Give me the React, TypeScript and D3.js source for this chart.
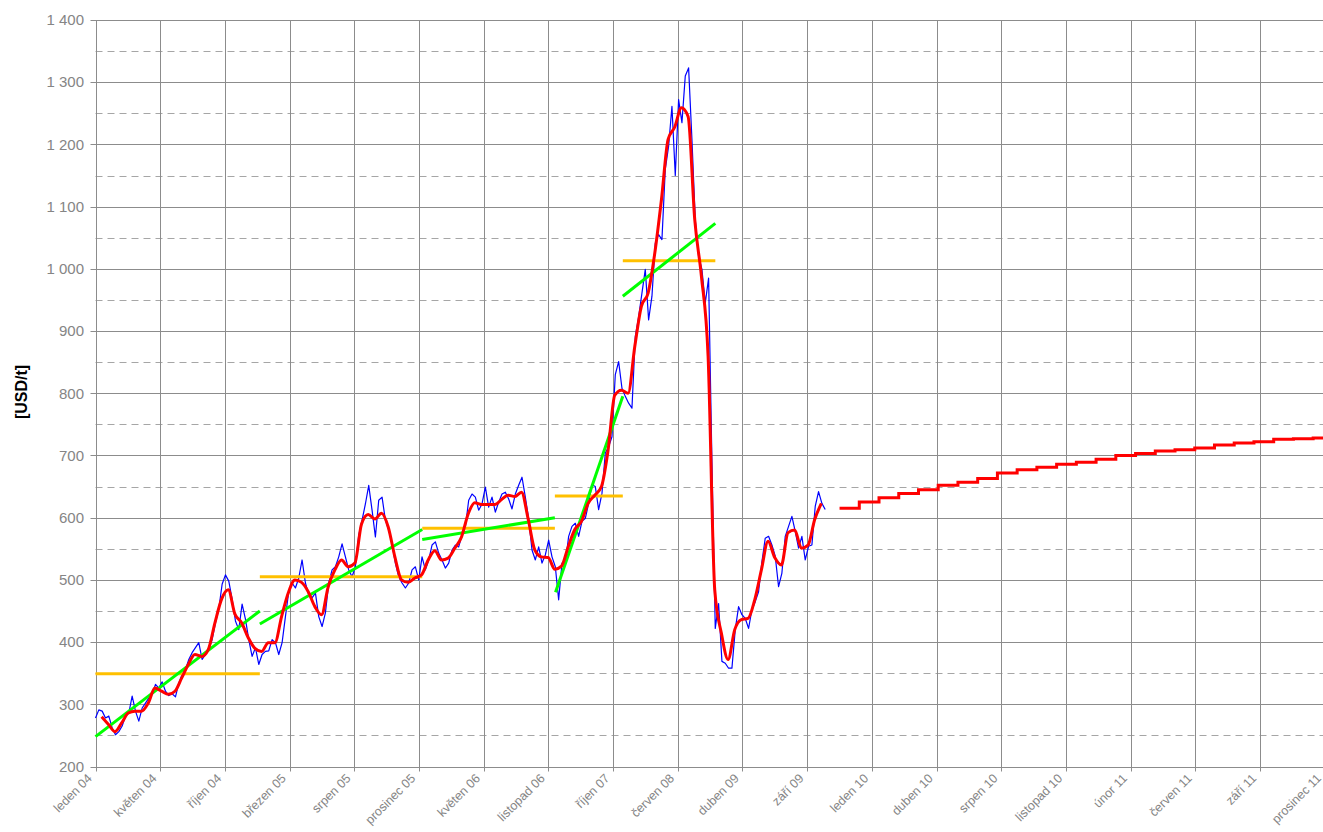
import { useRef, useEffect } from 'react';
import * as d3 from 'd3';

// category labels along the bottom axis (one per grid column)
const monthLabels = [
  'leden 04', 'květen 04', 'říjen 04', 'březen 05', 'srpen 05', 'prosinec 05',
  'květen 06', 'listopad 06', 'říjen 07', 'červen 08', 'duben 09', 'září 09',
  'leden 10', 'duben 10', 'srpen 10', 'listopad 10', 'únor 11', 'červen 11',
  'září 11', 'prosinec 11',
];

const yTicks = [200, 300, 400, 500, 600, 700, 800, 900, 1000, 1100, 1200, 1300, 1400];
const yHalfTicks = [250, 350, 450, 550, 650, 750, 850, 950, 1050, 1150, 1250, 1350];

// price quotes, read along the category axis
const PRICE_START = 0;
const PRICE_STEP = 0.0515;
const price = [
  278, 291, 289, 278, 281, 262, 251, 256, 265, 281, 286, 313, 289, 273, 294, 302, 310, 316,
  332, 326, 336, 321, 314, 317, 312, 334, 348, 356, 372, 383, 391, 399, 372, 380, 388, 404,
  431, 453, 493, 508, 498, 469, 434, 420, 461, 437, 404, 377, 391, 364, 380, 385,
  386, 404, 399, 380, 399, 441, 481, 495, 487, 503, 532, 495, 476, 471, 479, 441, 425, 447,
  495, 516, 521, 537, 558, 537, 516, 505, 521, 572, 596, 622, 652, 612, 569, 628, 633, 596,
  580, 558, 527, 505, 495, 487, 495, 516, 521, 500, 537, 516,
  532, 556, 561, 543, 532, 519, 527, 548, 556, 553, 572, 585, 628, 638, 633, 612, 622, 649,
  617, 633, 609, 625, 638, 641, 630, 614, 638, 652, 665, 633, 598, 548, 532, 553, 527, 540,
  564, 537, 521, 468, 527,
  527, 570, 586, 591, 570, 594, 599, 623, 653, 650, 613, 639, 704, 714, 730, 830, 851, 808,
  795, 784, 776,
  891, 923, 961, 999, 918, 956, 1041, 1055, 1047, 1160, 1197, 1261, 1150, 1272, 1235, 1310,
  1323, 1208, 1079, 1020, 999, 945, 985,
  690, 422, 462, 369, 366, 358, 358, 420, 457, 444, 438, 422, 452, 465, 481, 529, 567, 570,
  556, 538, 489, 511, 570, 586, 602, 578, 551, 570, 532, 554, 556, 618, 642, 623, 613,
];

// moving average of the price
const SMOOTH_START = 0.095;
const SMOOTH_STEP = 0.103;
const smoothed = [
  280, 268, 256, 270, 286, 289, 289, 302, 326, 321, 316, 321, 342, 364, 380, 377, 388, 431,
  469, 484, 445, 431, 407, 390, 385,
  399, 399, 441, 479, 500, 496, 481, 457, 444, 489, 516, 532, 521, 527, 590, 605, 598, 607,
  585, 537, 500, 496, 503, 508,
  532, 547, 532, 535, 551, 569, 606, 624, 621, 621, 621, 629, 636, 634, 641, 598, 548, 537,
  536, 517, 522,
  553, 581, 594, 623, 636, 650, 709, 797, 805, 800, 875,
  940, 961, 1025, 1111, 1208, 1228, 1259, 1245, 1079, 988, 860,
  484, 414, 372, 420, 436, 438, 468, 516, 562, 536, 524, 576, 580, 551, 556, 597, 623,
];

// monthly forecast
const FORECAST_START = 11.5;
const FORECAST_STEP = 0.305;
const forecast = [
  615, 625, 632, 639, 645, 652, 657, 663, 672, 677, 681, 686, 689, 694, 700, 703, 707, 709,
  712, 717, 720, 722, 726, 727, 728,
];

// linear trends per period
const trendFrom = [0, 2.54, 5.05, 7.11, 8.15];
const trendTo = [2.54, 5.05, 7.1, 8.15, 9.58];
const trendStart = [248, 429, 565, 480, 956];
const trendEnd = [450, 581, 600, 795, 1073];

// period averages
const avgFrom = [0, 2.54, 5.05, 7.1, 8.15];
const avgTo = [2.54, 5.05, 7.1, 8.15, 9.58];
const avgValue = [349, 505, 583, 635, 1013];

const W = 1323;
const H = 832;
const FONT = "Arial, 'Liberation Sans', sans-serif";

export default function App() {
  const svgRef = useRef<SVGSVGElement | null>(null);

  useEffect(() => {
    if (!svgRef.current) return;
    const svg = d3.select(svgRef.current);
    svg.selectAll('*').remove();

    const x = d3.scaleLinear().domain([0, monthLabels.length - 1]).range([95.5, 1324.8]);
    const y = d3.scaleLinear().domain([200, 1400]).range([766.5, 20]);
    const crisp = (v: number) => Math.round(v) + 0.5;

    const fmt = d3.formatLocale({
      decimal: ',', thousands: ' ', grouping: [3], currency: ['', ''],
    }).format(',');

    // grid
    const grid = svg.append('g');
    grid.selectAll('line.half')
      .data(yHalfTicks)
      .join('line')
      .attr('x1', x(0)).attr('x2', W)
      .attr('y1', d => crisp(y(d))).attr('y2', d => crisp(y(d)))
      .attr('stroke', '#a6a6a6')
      .attr('stroke-dasharray', '7,5');
    grid.selectAll('line.v')
      .data(monthLabels)
      .join('line')
      .attr('x1', (_, i) => crisp(x(i))).attr('x2', (_, i) => crisp(x(i)))
      .attr('y1', y(1400)).attr('y2', y(200) + 5)
      .attr('stroke', '#8c8c8c');
    grid.selectAll('line.h')
      .data(yTicks)
      .join('line')
      .attr('x1', x(0) - 5).attr('x2', W)
      .attr('y1', d => crisp(y(d))).attr('y2', d => crisp(y(d)))
      .attr('stroke', '#8c8c8c');

    // y axis labels
    svg.append('g')
      .selectAll('text')
      .data(yTicks)
      .join('text')
      .attr('x', 84)
      .attr('y', d => y(d))
      .attr('dy', '0.35em')
      .attr('text-anchor', 'end')
      .attr('font-family', FONT)
      .attr('font-size', 15)
      .attr('fill', '#858585')
      .text(d => fmt(d));

    // x axis labels
    svg.append('g')
      .selectAll('text')
      .data(monthLabels)
      .join('text')
      .attr('transform', (_, i) => `translate(${x(i) - 9},${773}) rotate(-45)`)
      .attr('text-anchor', 'end')
      .attr('dy', '0.7em')
      .attr('font-family', FONT)
      .attr('font-size', 12.5)
      .attr('fill', '#858585')
      .text(d => d);

    svg.append('text')
      .attr('transform', `translate(27,${392}) rotate(-90)`)
      .attr('text-anchor', 'middle')
      .attr('font-family', FONT)
      .attr('font-size', 16)
      .attr('font-weight', 'bold')
      .attr('fill', '#000')
      .text('[USD/t]');

    const line = d3.line<number>();

    // price
    svg.append('path')
      .attr('d', line.x((_, i) => x(PRICE_START + i * PRICE_STEP)).y(d => y(d))(price))
      .attr('fill', 'none')
      .attr('stroke', '#0000ff')
      .attr('stroke-width', 1.2)
      .attr('stroke-linejoin', 'round');

    // averages
    svg.append('g')
      .selectAll('line')
      .data(avgValue)
      .join('line')
      .attr('x1', (_, i) => x(avgFrom[i])).attr('x2', (_, i) => x(avgTo[i]))
      .attr('y1', d => y(d)).attr('y2', d => y(d))
      .attr('stroke', '#ffc000')
      .attr('stroke-width', 3);

    // trends
    svg.append('g')
      .selectAll('line')
      .data(trendStart)
      .join('line')
      .attr('x1', (_, i) => x(trendFrom[i])).attr('x2', (_, i) => x(trendTo[i]))
      .attr('y1', d => y(d)).attr('y2', (_, i) => y(trendEnd[i]))
      .attr('stroke', '#00ff00')
      .attr('stroke-width', 3);

    // smoothed
    svg.append('path')
      .attr('d', d3.line<number>().x((_, i) => x(SMOOTH_START + i * SMOOTH_STEP)).y(d => y(d))
        .curve(d3.curveMonotoneX)(smoothed))
      .attr('fill', 'none')
      .attr('stroke', '#ff0000')
      .attr('stroke-width', 3)
      .attr('stroke-linejoin', 'round');

    // forecast steps
    const fPts: [number, number][] = forecast.map((v, i) => [FORECAST_START + i * FORECAST_STEP, v]);
    fPts.push([monthLabels.length - 1, forecast[forecast.length - 1]]);
    svg.append('path')
      .attr('d', d3.line<[number, number]>().x(d => x(d[0])).y(d => y(d[1]))
        .curve(d3.curveStepAfter)(fPts))
      .attr('fill', 'none')
      .attr('stroke', '#ff0000')
      .attr('stroke-width', 3);
  }, []);

  return (
    <svg
      ref={svgRef}
      width={W}
      height={H}
      style={{ position: 'absolute', left: 0, top: 0, background: '#fff' }}
    />
  );
}
